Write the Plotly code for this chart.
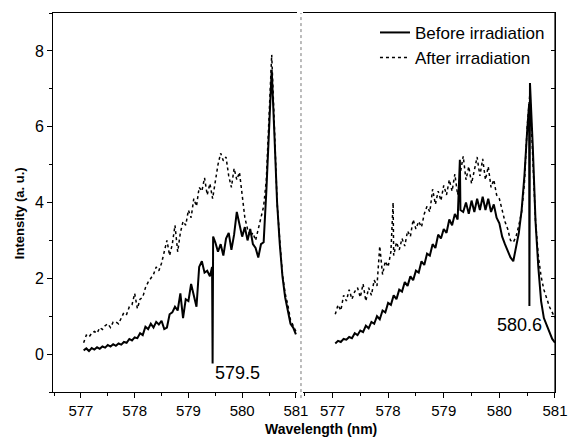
import numpy as np
import plotly.graph_objects as go

# wavelength grid (nm) shared by both panels
wavelength = np.round(np.arange(577.05, 581.0001, 0.05), 2)

# Left panel
left_before = [0.10, 0.15, 0.08, 0.16, 0.12, 0.18, 0.14, 0.20, 0.17, 0.24,
               0.20, 0.26, 0.22, 0.28, 0.25, 0.32, 0.30, 0.40, 0.36, 0.44,
               0.42, 0.55, 0.50, 0.72, 0.66, 0.80, 0.70, 0.85, 0.78, 0.88,
               0.66, 0.70, 1.05, 1.10, 1.25, 1.15, 1.60, 0.95, 1.45, 1.40,
               1.85, 1.55, 1.25, 2.30, 2.45, 2.15, 2.20, 2.05, -0.25, 2.95,
               2.70, 2.90, 2.60, 3.05, 3.20, 2.75, 3.15, 3.75, 3.40, 3.10,
               3.35, 3.00, 3.30, 2.90, 2.80, 2.55, 2.90, 2.95, 4.30, 6.00,
               7.50, 5.80, 4.00, 2.90, 2.05, 1.50, 1.10, 0.80, 0.70, 0.52]
left_before_extra_x = [579.44, 579.46]
left_before_extra_y = [2.30, 3.10]

left_after = [0.30, 0.50, 0.45, 0.55, 0.60, 0.55, 0.70, 0.65, 0.75, 0.80,
              0.70, 0.85, 0.85, 0.80, 0.95, 1.10, 1.05, 1.25, 1.30, 1.60,
              1.20, 1.45, 1.50, 1.75, 1.90, 2.00, 2.10, 2.30, 2.20, 2.40,
              2.70, 3.00, 2.60, 2.90, 3.40, 2.70, 3.20, 3.50, 3.40, 3.80,
              3.60, 4.10, 3.90, 4.40, 4.30, 4.65, 4.20, 4.50, 4.10, 4.60,
              5.00, 5.30, 5.10, 5.20, 4.70, 4.40, 4.90, 4.60, 4.80, 4.20,
              3.60, 3.30, 3.10, 3.20, 3.00, 3.30, 3.60, 3.90, 4.60, 6.50,
              7.90, 6.00, 4.00, 3.00, 2.10, 1.60, 1.30, 0.90, 0.75, 0.60]

# Right panel
right_before = [0.28, 0.35, 0.32, 0.40, 0.38, 0.45, 0.42, 0.55, 0.50, 0.62,
                0.58, 0.75, 0.68, 0.85, 0.80, 1.00, 0.92, 1.15, 1.10, 1.35,
                1.30, 1.55, 1.45, 1.70, 1.65, 1.90, 1.80, 2.05, 1.95, 2.20,
                2.15, 2.45, 2.35, 2.65, 2.60, 2.90, 2.80, 3.15, 3.05, 3.30,
                3.20, 3.55, 3.40, 3.70, 3.55, 3.80, 3.75, 4.00, 3.70, 4.05,
                3.75, 4.10, 3.80, 4.15, 3.80, 4.10, 3.75, 3.95, 3.60, 3.45,
                3.10, 2.90, 2.70, 2.55, 2.45, 2.80, 3.20, 3.80, 4.70, 5.90,
                7.15, 5.50, 3.50, 2.30, 1.40, 0.95, 0.75, 0.60, 0.40, 0.30]
right_before_extra_x = [579.29, 580.535, 580.54, 580.545]
right_before_extra_y = [5.13, 6.60, 1.27, 6.80]

right_after = [1.05, 1.30, 1.15, 1.55, 1.40, 1.70, 1.45, 1.65, 1.75, 1.50,
               1.85, 1.40, 1.75, 1.55, 1.95, 1.80, 2.85, 2.10, 2.45, 2.30,
               2.70, 2.60, 2.95, 2.75, 3.05, 2.85, 3.25, 3.10, 3.55, 3.30,
               3.50, 3.35, 3.70, 3.90, 3.75, 4.35, 3.95, 4.30, 4.05, 4.45,
               4.20, 4.60, 4.30, 4.75, 4.20, 4.80, 5.22, 4.60, 4.95, 4.50,
               4.90, 5.20, 4.70, 5.15, 4.60, 4.95, 4.40, 4.60, 4.20, 4.10,
               3.80, 3.50, 3.30, 3.00, 2.95, 3.10, 3.40, 3.75, 4.50, 6.00,
               6.90, 5.00, 3.50, 2.60, 2.05, 1.70, 1.45, 1.25, 1.10, 0.95]
right_after_extra_x = [578.09]
right_after_extra_y = [4.00]

series_names = ["Before irradiation", "After irradiation"]
peak_labels = ["579.5", "580.6"]
peak_label_x = [579.45, 580.80]
peak_label_y = [-0.51, 0.78]
x_ticks = [577, 578, 579, 580, 581]
y_ticks = [0, 2, 4, 6, 8]


def merge(xg, yg, xe=(), ye=()):
    xs = list(xg) + list(xe)
    ys = list(yg) + list(ye)
    order = np.argsort(xs, kind="stable")
    return [xs[i] for i in order], [ys[i] for i in order]


FONT = "Arial, Liberation Sans, sans-serif"
fig = go.Figure()

x, y = merge(wavelength, left_before, left_before_extra_x, left_before_extra_y)
fig.add_trace(go.Scatter(x=x, y=y, mode="lines", name=series_names[0],
                         line=dict(color="black", width=2), xaxis="x", yaxis="y",
                         legendgroup="b"))
x, y = merge(wavelength, left_after)
fig.add_trace(go.Scatter(x=x, y=y, mode="lines", name=series_names[1],
                         line=dict(color="black", width=1.5, dash="dot"),
                         xaxis="x", yaxis="y", legendgroup="a"))
x, y = merge(wavelength, right_before, right_before_extra_x, right_before_extra_y)
fig.add_trace(go.Scatter(x=x, y=y, mode="lines", name=series_names[0],
                         line=dict(color="black", width=2), xaxis="x2", yaxis="y2",
                         legendgroup="b", showlegend=False))
x, y = merge(wavelength, right_after, right_after_extra_x, right_after_extra_y)
fig.add_trace(go.Scatter(x=x, y=y, mode="lines", name=series_names[1],
                         line=dict(color="black", width=1.5, dash="dot"),
                         xaxis="x2", yaxis="y2", legendgroup="a", showlegend=False))

xcommon = dict(tickvals=x_ticks, ticks="outside", ticklen=5, tickwidth=1,
               tickcolor="black", showline=True, linecolor="black", linewidth=1,
               mirror=True, showgrid=False, zeroline=False, automargin=False,
               ticklabeloverflow="allow",
               tickfont=dict(family=FONT, size=15, color="black"),
               minor=dict(dtick=0.5, tick0=577, ticks="outside", ticklen=3,
                          tickcolor="black", showgrid=False))

fig.update_layout(
    width=569, height=438,
    margin=dict(l=53, r=14, t=13, b=46, autoexpand=False),
    plot_bgcolor="white", paper_bgcolor="white",
    font=dict(family=FONT, color="black"),
    xaxis=dict(domain=[0, 0.486], range=[576.48, 581.02], anchor="y", **xcommon),
    xaxis2=dict(domain=[0.498, 1], range=[576.47, 581.0], anchor="y2", **xcommon),
    yaxis=dict(domain=[0, 1], range=[-1, 9], anchor="x", tickvals=y_ticks,
               ticks="outside", ticklen=5, tickcolor="black", showline=True,
               linecolor="black", linewidth=1, showgrid=False, zeroline=False,
               automargin=False,
               tickfont=dict(family=FONT, size=16, color="black"),
               minor=dict(dtick=1, tick0=0, ticks="outside", ticklen=3,
                          tickcolor="black", showgrid=False)),
    yaxis2=dict(domain=[0, 1], range=[-1, 9], anchor="x2", side="right",
                showticklabels=False, dtick=1, tick0=0, ticks="inside", ticklen=4,
                tickcolor="black", showline=True, linecolor="black", linewidth=1.2,
                showgrid=False, zeroline=False, automargin=False),
    legend=dict(x=0.99, xanchor="right", y=0.995, yanchor="top",
                bgcolor="rgba(0,0,0,0)", tracegroupgap=0,
                font=dict(family=FONT, size=17, color="black")),
    showlegend=True,
)

fig.add_shape(type="line", xref="paper", yref="paper", x0=0.494, x1=0.494,
              y0=-0.016, y1=1.0, line=dict(color="#777777", width=1, dash="dot"))
fig.add_shape(type="line", xref="paper", yref="paper", x0=1.0, x1=1.0,
              y0=0.0, y1=1.0, line=dict(color="black", width=1.2))

fig.add_annotation(x=peak_label_x[0], y=peak_label_y[0], xref="x", yref="y",
                   text=peak_labels[0], showarrow=False, xanchor="left",
                   yanchor="middle", font=dict(family=FONT, size=18, color="black"))
fig.add_annotation(x=peak_label_x[1], y=peak_label_y[1], xref="x2", yref="y2",
                   text=peak_labels[1], showarrow=False, xanchor="right",
                   yanchor="middle", font=dict(family=FONT, size=18, color="black"))
fig.add_annotation(x=0.534, y=-0.07, xref="paper", yref="paper",
                   text="<b>Wavelength (nm)</b>", showarrow=False,
                   xanchor="center", yanchor="top",
                   font=dict(family=FONT, size=14, color="black"))
fig.add_annotation(x=-0.0677, y=0.472, xref="paper", yref="paper",
                   text="<b>Intensity (a. u.)</b>", showarrow=False, textangle=-90,
                   xanchor="center", yanchor="middle",
                   font=dict(family=FONT, size=13, color="black"))

fig.write_html(
    "out.html",
    config={"displayModeBar": False},
    post_script="document.body.style.margin='0';document.body.style.overflow='hidden';",
)
